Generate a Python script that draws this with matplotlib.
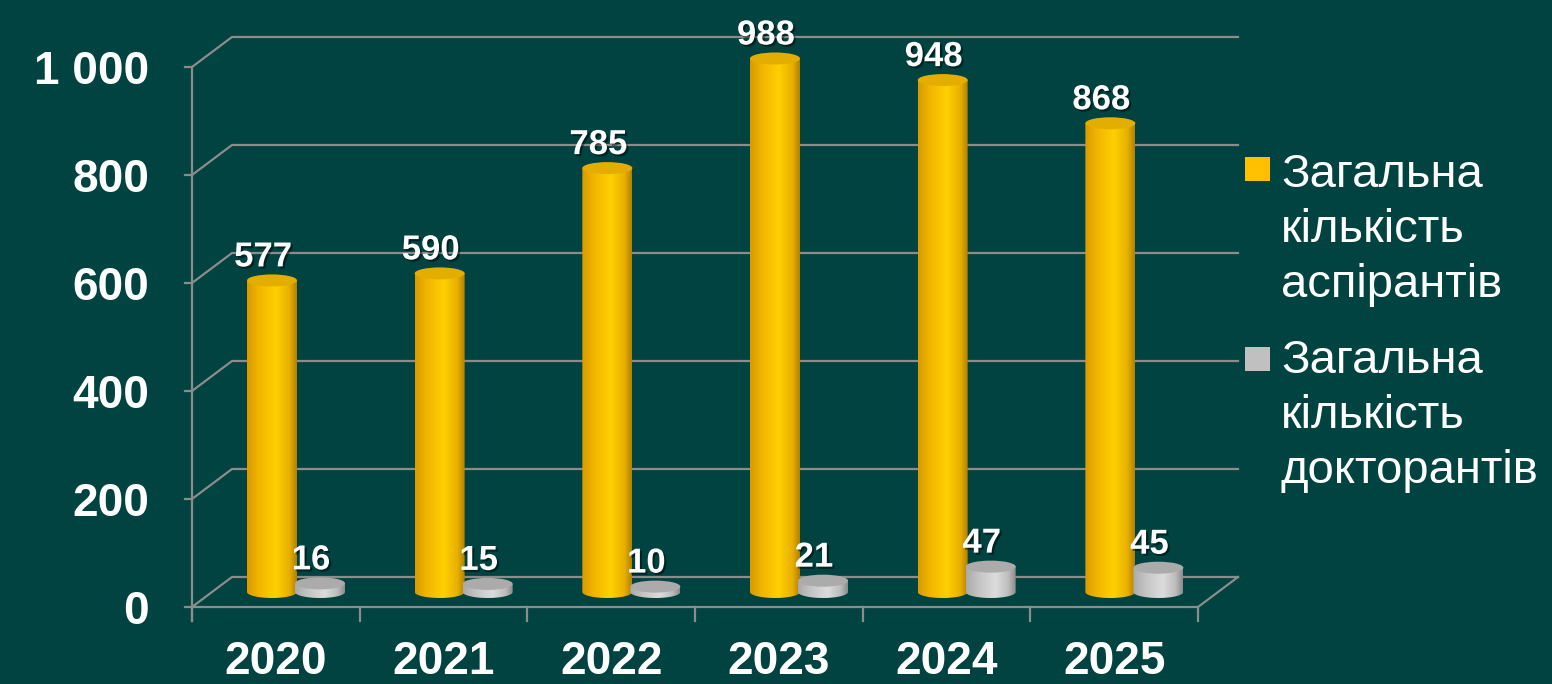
import matplotlib
matplotlib.use('Agg')
import matplotlib.pyplot as plt
import matplotlib.patheffects as pe
from matplotlib.colors import LinearSegmentedColormap
from matplotlib.patches import Ellipse, Polygon, Rectangle
import numpy as np

plt.rcParams['font.family'] = ['Liberation Sans', 'DejaVu Sans']

# Data
years = ['2020', '2021', '2022', '2023', '2024', '2025']
aspirants = [577, 590, 785, 988, 948, 868]
doctorants = [16, 15, 10, 21, 47, 45]
y_ticks = [0, 200, 400, 600, 800, 1000]
y_tick_labels = ['0', '200', '400', '600', '800', '1 000']
series_names = ['Загальна\nкількість\nаспірантів', 'Загальна\nкількість\nдокторантів']

BG = '#004340'
GRID = '#8c8c8c'

# Layout: pixel geometry of the fake 3D box
W, H = 1552, 684
PX_X = 167.67          # px per category
PX_Y = 0.54            # px per value unit
X0, Y0 = 192, 607      # front-left origin (px)
DX = 40 / PX_X         # depth offset in category units
DY = 30 / PX_Y         # depth offset in value units


def px2x(px):
    return (px - X0) / PX_X


def px2y(py):
    return (Y0 - py) / PX_Y


fig = plt.figure(figsize=(W / 100, H / 100), dpi=100, facecolor=BG)
ax = fig.add_axes([0, 0, 1, 1])
ax.set_facecolor(BG)
ax.axis('off')

n = len(years)

# Back wall gridlines + left diagonals + small ticks
for v in y_ticks:
    ax.plot([0, DX, n + DX], [v, v + DY, v + DY], color=GRID, lw=1.6, zorder=1)
    ax.plot([px2x(185), 0], [v, v], color=GRID, lw=1.6, zorder=1)

# front left axis, floor and x ticks
ax.plot([0, 0], [px2y(621), y_ticks[-1]], color=GRID, lw=1.6, zorder=1)
ax.plot([0, n, n + DX], [0, 0, DY], color=GRID, lw=1.6, zorder=1)
for i in range(n + 1):
    ax.plot([i, i], [0, px2y(621)], color=GRID, lw=1.6, zorder=1)

gold_cmap = LinearSegmentedColormap.from_list(
    'gold', [(0, '#D99A00'), (0.25, '#F2B600'), (0.58, '#FFD000'), (0.85, '#E8B000'), (1, '#B08000')])
gray_cmap = LinearSegmentedColormap.from_list(
    'gray', [(0, '#ABABAB'), (0.3, '#C8C8C8'), (0.6, '#DCDCDC'), (0.85, '#BDBDBD'), (1, '#8A8A8A')])

EH = 12 / PX_Y  # ellipse height
CW = 50 / PX_X  # cylinder width


def cylinder(xc, v, cmap, top_color, z):
    base = DY / 2
    x0, x1 = xc - CW / 2, xc + CW / 2
    yb, yt = base, base + v
    t = np.linspace(np.pi, 2 * np.pi, 60)
    pts = list(zip(xc + CW / 2 * np.cos(t), yb + EH / 2 * np.sin(t)))
    pts += [(x1, yt), (x0, yt)]
    body = Polygon(pts, closed=True, facecolor='none', edgecolor='none')
    ax.add_patch(body)
    grad = np.linspace(0, 1, 256).reshape(1, -1)
    im = ax.imshow(grad, cmap=cmap, extent=(x0, x1, yb - EH / 2, yt),
                   aspect='auto', interpolation='bilinear', zorder=z)
    im.set_clip_path(body)
    ax.add_patch(Ellipse((xc, yt), CW, EH, facecolor=top_color,
                         edgecolor='none', zorder=z + 0.1))


shadow = [pe.withSimplePatchShadow(offset=(1.5, -1.5), shadow_rgbFace='black', alpha=0.45)]

for i in range(n):
    xg = i + 80 / PX_X
    xs = i + 128 / PX_X
    cylinder(xg, aspirants[i], gold_cmap, '#E4AE00', 3 + i * 0.5)
    cylinder(xs, doctorants[i], gray_cmap, '#ABABAB', 3.2 + i * 0.5)
    for xc, v in [(xg, aspirants[i]), (xs, doctorants[i])]:
        ax.text(xc - 9 / PX_X, v + DY / 2 + 14 / PX_Y, str(v), ha='center', va='baseline',
                fontsize=25, fontweight='bold', color='white', path_effects=shadow, zorder=10)
    ax.text(i + 0.5, px2y(662), years[i], ha='center', va='center',
            fontsize=33, fontweight='bold', color='white', zorder=10)

for v, lbl in zip(y_ticks, y_tick_labels):
    ax.text(px2x(149), v, lbl, ha='right', va='center_baseline',
            fontsize=33, fontweight='bold', color='white', zorder=10)

# Legend: one square per series, name split on lines
LINE_GAP = 55
for (sq_top, base), name, col in zip([(157, 187), (347, 373)], series_names, ['#FFC000', '#C0C0C0']):
    ax.add_patch(Rectangle((px2x(1245), px2y(sq_top + 24)), 25 / PX_X, 24 / PX_Y,
                           facecolor=col, edgecolor='none', zorder=10))
    for k, line in enumerate(name.split('\n')):
        ax.text(px2x(1281), px2y(base + k * LINE_GAP), line, ha='left', va='baseline',
                fontsize=34, color='white', zorder=10)

ax.set_xlim(px2x(0), px2x(W))
ax.set_ylim(px2y(H), px2y(0))

fig.savefig('out.png', dpi=100, facecolor=BG)
plt.close()
